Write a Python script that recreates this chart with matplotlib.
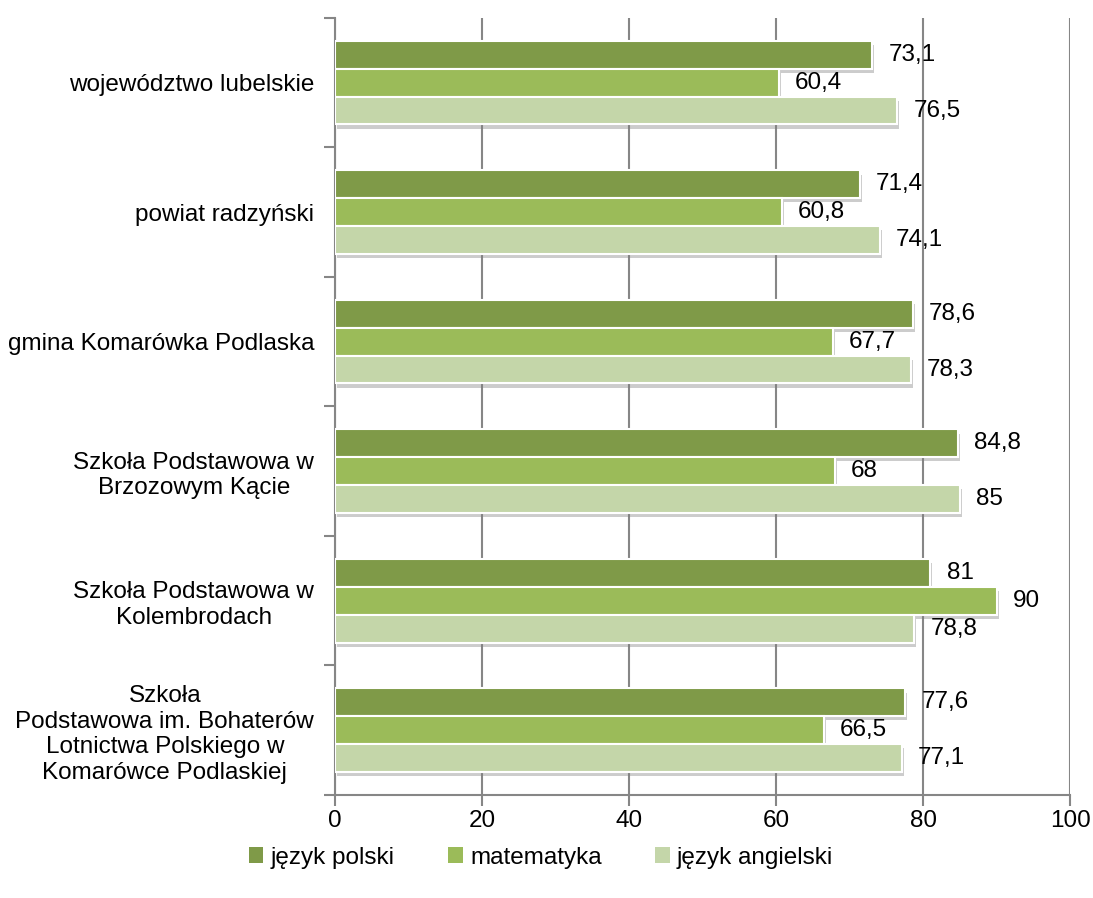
import numpy as np
import matplotlib
matplotlib.use("Agg")
import matplotlib.pyplot as plt
import matplotlib.patheffects as pe
from matplotlib.patches import Patch

plt.rcParams['font.family'] = ['Liberation Sans', 'DejaVu Sans']

categories = ["województwo lubelskie",
              "powiat radzyński",
              "gmina Komarówka Podlaska",
              "Szkoła Podstawowa w\nBrzozowym Kącie",
              "Szkoła Podstawowa w\nKolembrodach",
              "Szkoła\nPodstawowa im. Bohaterów\nLotnictwa Polskiego w\nKomarówce Podlaskiej"]
series = ["język polski", "matematyka", "język angielski"]
polski = [73.1, 71.4, 78.6, 84.8, 81, 77.6]
matematyka = [60.4, 60.8, 67.7, 68, 90, 66.5]
angielski = [76.5, 74.1, 78.3, 85, 78.8, 77.1]
colors = ["#7F9A48", "#9BBB59", "#C4D6A9"]

fig = plt.figure(figsize=(10.93, 8.98), dpi=100)
ax = fig.add_axes([0.3065, 0.1147, 0.6725, 0.8653])

y = np.arange(len(categories))
h = 0.215
shadow = [pe.SimplePatchShadow(offset=(1.5, -3), shadow_rgbFace="#808080", alpha=0.4), pe.Normal()]

for k, (vals, col) in enumerate(zip([polski, matematyka, angielski], colors)):
    pos = y + (k - 1) * h
    bars = ax.barh(pos, vals, height=h, color=col, edgecolor="white", linewidth=1.5, zorder=3)
    for b in bars:
        b.set_path_effects(shadow)
    for p, v in zip(pos, vals):
        txt = ("%g" % v).replace(".", ",")
        ax.text(v + 2.2, p, txt, va="center", ha="left", fontsize=17.5, zorder=4)

ax.set_xlim(0, 100)
ax.set_ylim(len(categories) - 0.5, -0.5)
ax.set_xticks([0, 20, 40, 60, 80, 100])
ax.tick_params(axis="x", labelsize=17.5, length=8, width=1.5, color="#868686", pad=3)
ax.set_yticks(y)
ax.set_yticklabels(categories, fontsize=17.5, multialignment="center")
ax.set_yticks(np.arange(-0.5, len(categories), 1), minor=True)
ax.tick_params(axis="y", which="major", length=0, pad=15)
ax.tick_params(axis="y", which="minor", length=8, width=1.5, color="#868686")
ax.grid(axis="x", color="#868686", linewidth=1.5, zorder=0)
ax.set_axisbelow(True)
for s in ["top", "right"]:
    ax.spines[s].set_visible(False)
for s in ["left", "bottom"]:
    ax.spines[s].set_color("#868686")
    ax.spines[s].set_linewidth(1.5)

handles = [Patch(facecolor=c, edgecolor="none") for c in colors]
fig.legend(handles, series, loc="center", bbox_to_anchor=(0.495, 0.045), ncol=3,
           frameon=False, fontsize=17.5, handlelength=0.6, handleheight=0.6,
           handletextpad=0.3, columnspacing=2.2)

fig.savefig("out.png", dpi=100)
